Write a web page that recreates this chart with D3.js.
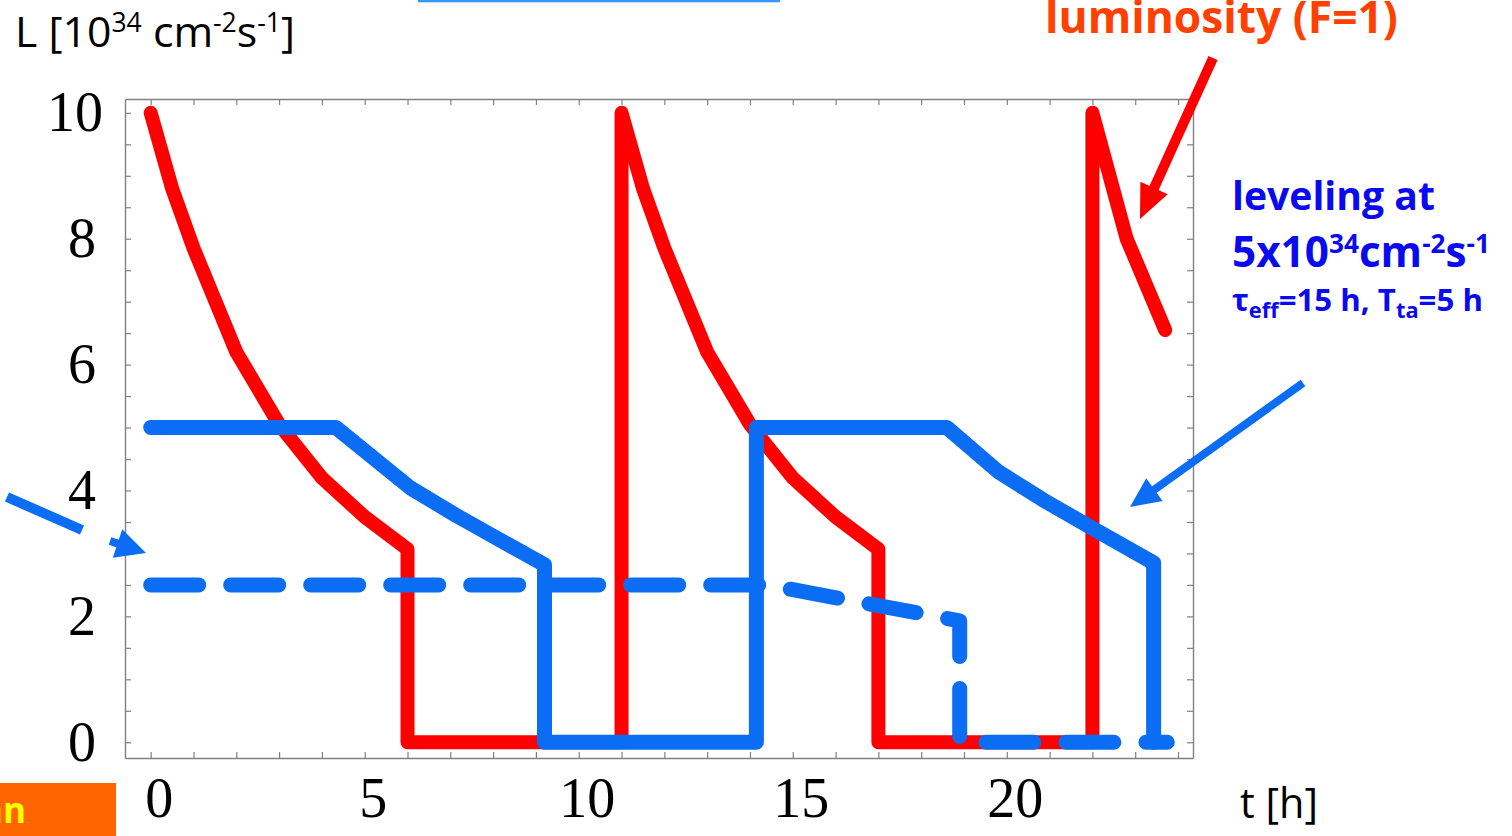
<!DOCTYPE html>
<html>
<head>
<meta charset="utf-8">
<script src="https://cdn.jsdelivr.net/npm/d3@7"></script>
<style>
  html, body { margin: 0; padding: 0; background: #fff; }
  svg { display: block; }
</style>
</head>
<body>
<svg id="chart" width="1512" height="836"></svg>
<script>
// Luminosity without leveling (red), with leveling at 5e34 (blue) and leveling at 2.5e34 (dashed)
const redT  = [0, 0.5, 1, 2, 3, 4, 5, 6, 6, 11, 11, 11.5, 12, 13, 14, 15, 16, 17, 17, 22, 22, 22.8, 23.7];
const redL  = [10, 8.8, 7.85, 6.2, 5.05, 4.2, 3.58, 3.07, 0, 0, 10, 8.8, 7.85, 6.2, 5.05, 4.2, 3.58, 3.07, 0, 0, 10, 8.0, 6.55];

const blueT = [0, 4.33, 6.07, 7.12, 8.17, 9.2, 9.2, 14.15, 14.15, 18.6, 19.8, 20.85, 22.0, 23.43, 23.43];
const blueL = [5, 5, 4.04, 3.61, 3.21, 2.82, 0, 0, 5, 5, 4.3, 3.85, 3.4, 2.85, 0];

const dashT = [0, 14.4, 18.9, 18.9, 23.75];
const dashL = [2.5, 2.5, 1.93, 0, 0];

const xTickLabels = [0, 5, 10, 15, 20];
const yTickLabels = [0, 2, 4, 6, 8, 10];

const svg = d3.select("#chart");

const plot = { left: 125, right: 1193, top: 99, bottom: 758 };
const x = d3.scaleLinear().domain([-0.6, 24.35]).range([plot.left, plot.right]);
const y = d3.scaleLinear().domain([-0.25, 10.22]).range([plot.bottom, plot.top]);

const axisColor = "#808080";
const redCol = "#ff0000";
const blueCol = "#0b6cf4";
const textBlue = "#0a0af0";

// decorative pieces around the slide
svg.append("rect").attr("x", 418).attr("y", 0).attr("width", 362).attr("height", 2.3).attr("fill", "#3399ff");
svg.append("rect").attr("x", 0).attr("y", 783).attr("width", 116).attr("height", 53).attr("fill", "#ff6600");
svg.append("text").attr("x", 26).attr("y", 823).attr("text-anchor", "end")
  .attr("font-family", "Open Sans").attr("font-weight", "bold").attr("font-size", 35)
  .attr("fill", "#ffff00").text("an");

// tick marks on all four sides, pointing inward
const xMinor = d3.range(0, 25, 1);
const yMinor = d3.range(0, 10.01, 0.5);
function styleAxis(g) {
  g.selectAll("path").attr("stroke", axisColor).attr("stroke-width", 1.4);
  g.selectAll("line").attr("stroke", axisColor).attr("stroke-width", 1.2);
  g.selectAll("text").remove();
}
svg.append("g").attr("transform", `translate(0,${plot.bottom})`)
  .call(d3.axisBottom(x).tickValues(xMinor).tickSize(-6).tickSizeOuter(0)).call(styleAxis);
svg.append("g").attr("transform", `translate(0,${plot.top})`)
  .call(d3.axisTop(x).tickValues(xMinor).tickSize(-6).tickSizeOuter(0)).call(styleAxis);
svg.append("g").attr("transform", `translate(${plot.left},0)`)
  .call(d3.axisLeft(y).tickValues(yMinor).tickSize(-6).tickSizeOuter(0)).call(styleAxis);
svg.append("g").attr("transform", `translate(${plot.right},0)`)
  .call(d3.axisRight(y).tickValues(yMinor).tickSize(-6).tickSizeOuter(0)).call(styleAxis);

// tick labels
const labelFont = "Liberation Serif";
const xl = svg.append("g").attr("transform", `translate(0,${plot.bottom})`)
  .call(d3.axisBottom(x).tickValues(xTickLabels).tickSize(0).tickPadding(19).tickFormat(d3.format("d")));
xl.select(".domain").remove();
xl.selectAll("text").attr("font-family", labelFont).attr("font-size", 56).attr("fill", "#000").attr("dx", 8);

const yl = svg.append("g").attr("transform", `translate(${plot.left},0)`)
  .call(d3.axisLeft(y).tickValues(yTickLabels).tickSize(0).tickPadding(22).tickFormat(d3.format("d")));
yl.select(".domain").remove();
yl.selectAll("text").attr("font-family", labelFont).attr("font-size", 56).attr("fill", "#000")
  .attr("dx", d => d < 10 ? -7 : 0);

// curves
const line = d3.line().x(d => x(d[0])).y(d => y(d[1]));
const zip = (a, b) => a.map((v, i) => [v, b[i]]);

svg.append("path").datum(zip(redT, redL)).attr("d", line)
  .attr("fill", "none").attr("stroke", redCol).attr("stroke-width", 14)
  .attr("stroke-linejoin", "round").attr("stroke-linecap", "round");

svg.append("path").datum(zip(blueT, blueL)).attr("d", line)
  .attr("fill", "none").attr("stroke", blueCol).attr("stroke-width", 15)
  .attr("stroke-linejoin", "round").attr("stroke-linecap", "round");

svg.append("path").datum(zip(dashT, dashL)).attr("d", line)
  .attr("fill", "none").attr("stroke", blueCol).attr("stroke-width", 15)
  .attr("stroke-dasharray", "48 32")
  .attr("stroke-linejoin", "round").attr("stroke-linecap", "round");

// arrows
function arrow(x1, y1, x2, y2, color, width, headLen, headW) {
  const dx = x2 - x1, dy = y2 - y1, len = Math.hypot(dx, dy);
  const ux = dx / len, uy = dy / len;
  const bx = x2 - ux * headLen, by = y2 - uy * headLen;
  svg.append("line").attr("x1", x1).attr("y1", y1).attr("x2", bx + ux * 2).attr("y2", by + uy * 2)
    .attr("stroke", color).attr("stroke-width", width);
  const px = -uy, py = ux;
  svg.append("polygon")
    .attr("points", `${x2},${y2} ${bx + px * headW / 2},${by + py * headW / 2} ${bx - px * headW / 2},${by - py * headW / 2}`)
    .attr("fill", color);
}
arrow(1213, 58, 1140, 219, "#ff0000", 10, 34, 30);
arrow(1303, 383, 1130, 507, blueCol, 8, 30, 28);
svg.append("line").attr("x1", 7).attr("y1", 497).attr("x2", 82).attr("y2", 530)
  .attr("stroke", blueCol).attr("stroke-width", 10);
arrow(110, 541, 146, 553, blueCol, 8, 30, 30);

// texts; each one is sized to its intended width
function fit(sel, target) {
  const w = sel.node().getBBox().width;
  const fs = parseFloat(sel.attr("font-size"));
  sel.attr("font-size", fs * target / w);
}
// superscript: small tspan raised, then the following text back on the baseline
function addSup(t, s, after) {
  t.append("tspan").attr("font-size", "0.62em").attr("dy", "-0.55em").text(s);
  t.append("tspan").attr("dy", "0.341em").text(after);
}
function addSub(t, s, after) {
  t.append("tspan").attr("font-size", "0.7em").attr("dy", "0.3em").text(s);
  t.append("tspan").attr("dy", "-0.21em").text(after);
}

const title = svg.append("text").attr("x", 15).attr("y", 47)
  .attr("font-family", "Open Sans").attr("font-size", 38).attr("fill", "#000");
title.append("tspan").text("L [10");
addSup(title, "34", " cm");
addSup(title, "-2", "s");
addSup(title, "-1", "]");
fit(title, 280);

const tl = svg.append("text").attr("x", 1240).attr("y", 818)
  .attr("font-family", "Open Sans").attr("font-size", 38).attr("fill", "#000").text("t [h]");
fit(tl, 78);

const lum = svg.append("text").attr("x", 1045).attr("y", 33)
  .attr("font-family", "Open Sans").attr("font-weight", "bold").attr("font-size", 38)
  .attr("fill", "#ff4000").text("luminosity (F=1)");
fit(lum, 353);

const lev = svg.append("text").attr("x", 1232).attr("y", 210)
  .attr("font-family", "Open Sans").attr("font-weight", "bold").attr("font-size", 38)
  .attr("fill", textBlue).text("leveling at");
fit(lev, 203);

const lev2 = svg.append("text").attr("x", 1232).attr("y", 267)
  .attr("font-family", "Open Sans").attr("font-weight", "bold").attr("font-size", 38)
  .attr("fill", textBlue);
lev2.append("tspan").text("5x10");
addSup(lev2, "34", "cm");
addSup(lev2, "-2", "s");
addSup(lev2, "-1", "");
fit(lev2, 258);

const tau = svg.append("text").attr("x", 1232).attr("y", 311)
  .attr("font-family", "Open Sans").attr("font-weight", "bold").attr("font-size", 28)
  .attr("fill", textBlue);
tau.append("tspan").text("τ");
addSub(tau, "eff", "=15 h, T");
addSub(tau, "ta", "=5 h");
fit(tau, 251);
</script>
</body>
</html>
